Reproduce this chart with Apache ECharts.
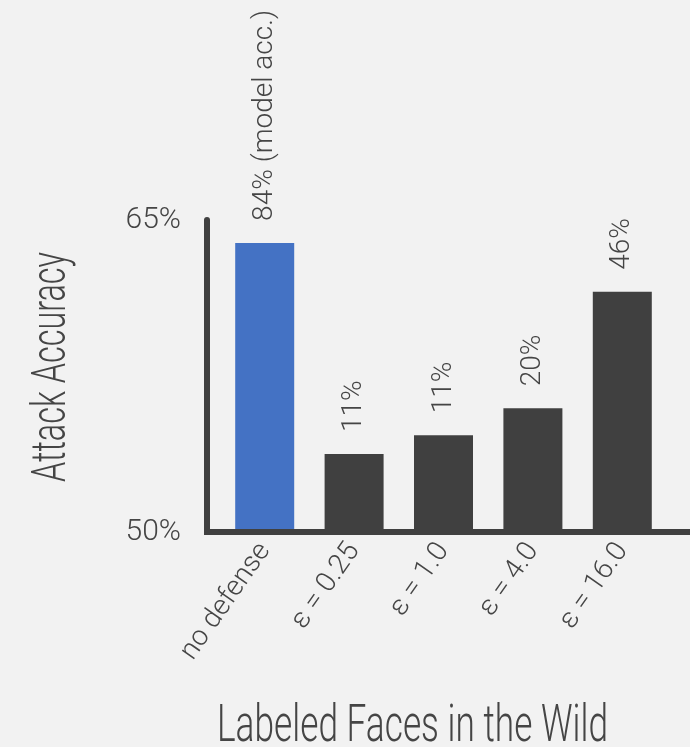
<!DOCTYPE html>
<html>
<head>
<meta charset="utf-8">
<script src="https://cdn.jsdelivr.net/npm/echarts@6/dist/echarts.min.js"></script>
<style>
html,body{margin:0;padding:0;background:#f2f2f2;}
#c{width:690px;height:747px;}
</style>
</head>
<body>
<div id="c"></div>
<script>
const categories = ['no defense', 'ε = 0.25', 'ε = 1.0', 'ε = 4.0', 'ε = 16.0'];
const accuracy = [63.9, 53.75, 54.65, 55.95, 61.55];
const barLabels = ['84% (model acc.)', '11%', '11%', '20%', '46%'];
const yMin = 50;
const yMax = 65;
const yAxisTitle = 'Attack Accuracy';
const chartTitle = 'Labeled Faces in the Wild';

const FONT = "Roboto, 'DejaVu Sans Condensed', sans-serif";
const WEIGHT = 300;
const TXT = '#454545';
const DARK = '#404040';

function fitScale(text, size, target) {
  const ctx = document.createElement('canvas').getContext('2d');
  ctx.font = WEIGHT + ' ' + size + 'px ' + FONT;
  return target / ctx.measureText(text).width;
}

const chart = echarts.init(document.getElementById('c'), null, {renderer: 'canvas'});
chart.setOption({
  backgroundColor: '#f2f2f2',
  animation: false,
  graphic: [
    {
      type: 'text', x: 217, y: 702, scaleX: fitScale(chartTitle, 52, 391),
      style: {text: chartTitle, fontSize: 52, fontFamily: FONT, fontWeight: WEIGHT, fill: TXT, align: 'left', verticalAlign: 'top'}
    },
    {
      type: 'text', x: 53, y: 367, rotation: Math.PI / 2, scaleX: fitScale(yAxisTitle, 48, 230),
      style: {text: yAxisTitle, fontSize: 48, fontFamily: FONT, fontWeight: WEIGHT, fill: TXT, align: 'center', verticalAlign: 'middle'}
    }
  ],
  grid: [
    {left: 220, right: 23, top: 220, bottom: 215},
    {left: 207, right: 0, top: 220, bottom: 215}
  ],
  xAxis: [
    {
      type: 'category', gridIndex: 0, data: categories,
      axisLine: {show: false}, axisTick: {show: false},
      axisLabel: {rotate: 55, margin: 14, fontFamily: FONT, fontWeight: WEIGHT, fontSize: 28, color: TXT, interval: 0}
    },
    {
      type: 'value', gridIndex: 1, min: 0, max: 1, z: 10,
      axisLine: {show: true, onZero: false, lineStyle: {color: DARK, width: 6, cap: 'square'}},
      axisTick: {show: false}, axisLabel: {show: false}, splitLine: {show: false}
    }
  ],
  yAxis: [
    {type: 'value', gridIndex: 0, min: yMin, max: yMax, show: false},
    {
      type: 'value', gridIndex: 1, min: yMin, max: yMax, interval: yMax - yMin, z: 10,
      axisLine: {show: true, onZero: false, lineStyle: {color: DARK, width: 6}},
      axisTick: {show: false}, splitLine: {show: false},
      axisLabel: {formatter: '{value}%', margin: 26, fontFamily: FONT, fontWeight: WEIGHT, fontSize: 30, color: TXT}
    }
  ],
  series: [{
    type: 'bar', xAxisIndex: 0, yAxisIndex: 0,
    data: accuracy,
    barWidth: 59,
    itemStyle: {color: (p) => p.dataIndex === 0 ? '#4472c4' : DARK},
    label: {
      show: true, position: 'top', rotate: 90, align: 'left', verticalAlign: 'middle',
      distance: 22, fontFamily: FONT, fontWeight: WEIGHT, fontSize: 28, color: TXT,
      formatter: (p) => barLabels[p.dataIndex]
    }
  }]
});
</script>
</body>
</html>
